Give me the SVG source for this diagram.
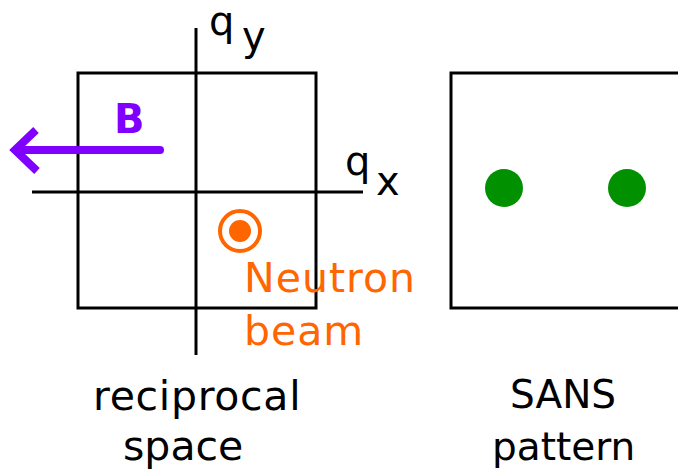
<svg xmlns="http://www.w3.org/2000/svg" width="678" height="475" viewBox="0 0 678 475">
<style>
.ln{stroke:#000;stroke-width:3;fill:none}
.t{font-family:"DejaVu Sans",Verdana,sans-serif;font-size:40px;fill:#000}
.o{fill:#FF6600}
</style>
<rect width="678" height="475" fill="#fff"/>
<g id="reciprocal-box">
<rect class="ln" x="78" y="73" width="238" height="235"/>
</g>
<g id="axes">
<line class="ln" x1="196" y1="28" x2="196" y2="355"/>
<line class="ln" x1="32" y1="192" x2="363" y2="192"/>
</g>
<g id="qy">
<text class="t" x="209" y="35">q</text>
<text class="t" x="242" y="50">y</text>
</g>
<g id="qx">
<text class="t" x="345" y="175">q</text>
<text class="t" x="376" y="195">x</text>
</g>
<g id="B-field">
<polyline points="160,150 18,150" stroke="#7F00FF" stroke-width="8" stroke-linecap="round" fill="none"/>
<polyline points="36,130 15,150 37,171" stroke="#7F00FF" stroke-width="8" fill="none"/>
<text x="114" y="133" style="font-family:'DejaVu Sans',Verdana,sans-serif;font-size:40px;font-weight:bold;fill:#7F00FF">B</text>
</g>
<g id="neutron-beam">
<circle cx="240" cy="231" r="20" fill="none" stroke="#FF6600" stroke-width="4"/>
<circle cx="240" cy="231" r="11" fill="#FF6600"/>
<text class="t o" x="244" y="292" style="font-size:41px;letter-spacing:1px">Neutron</text>
<text class="t o" x="244" y="345" style="font-size:41px;letter-spacing:1px">beam</text>
</g>
<g id="label-reciprocal">
<text class="t" x="93" y="410" style="font-size:41px;letter-spacing:0.7px">reciprocal</text>
<text class="t" x="123" y="460" style="font-size:41px">space</text>
</g>
<g id="sans-box">
<rect class="ln" x="451" y="73" width="240" height="235" stroke-width="3.5"/>
<circle cx="504" cy="188" r="19" fill="#009000"/>
<circle cx="627" cy="188" r="19" fill="#009000"/>
</g>
<g id="label-sans">
<text class="t" x="510" y="408" style="font-size:39px">SANS</text>
<text class="t" x="492" y="460" style="font-size:39px">pattern</text>
</g>
</svg>
